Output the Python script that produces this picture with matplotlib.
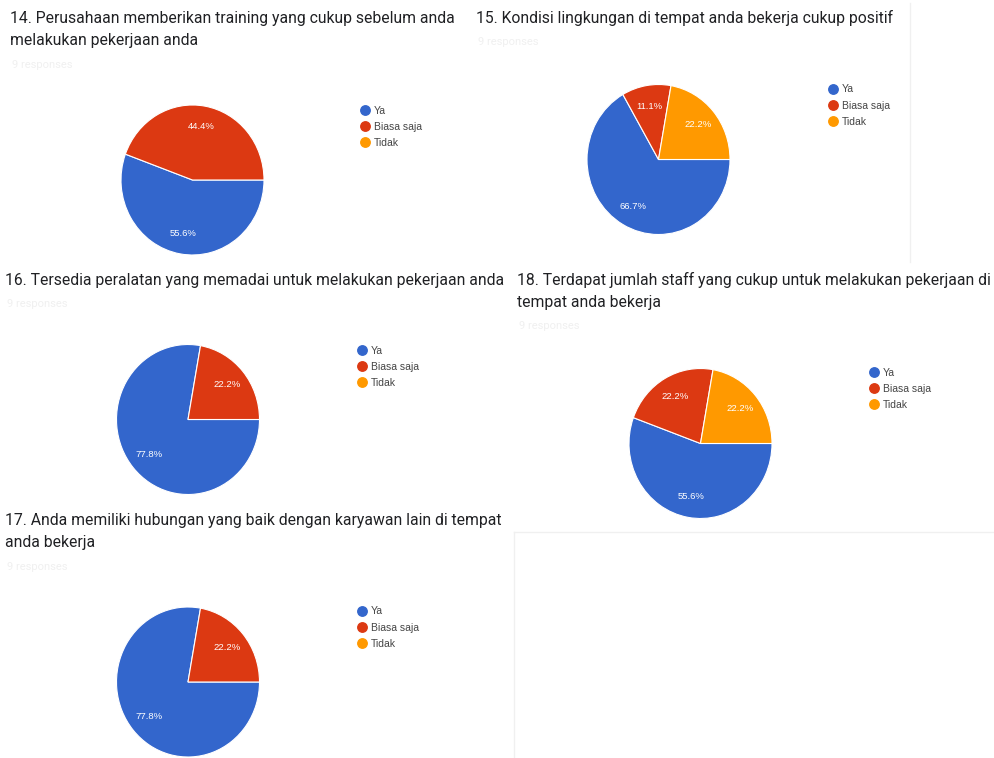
import matplotlib
matplotlib.use("Agg")
import matplotlib.pyplot as plt
from matplotlib.lines import Line2D

W, H = 994, 758

categories = ["Ya", "Biasa saja", "Tidak"]
slice_colors = ["#3366cc", "#dc3912", "#ff9900"]

title_14 = ["14. Perusahaan memberikan training yang cukup sebelum anda",
            "melakukan pekerjaan anda"]
title_15 = ["15. Kondisi lingkungan di tempat anda bekerja cukup positif"]
title_16 = ["16. Tersedia peralatan yang memadai untuk melakukan pekerjaan anda"]
title_18 = ["18. Terdapat jumlah staff yang cukup untuk melakukan pekerjaan di",
            "tempat anda bekerja"]
title_17 = ["17. Anda memiliki hubungan yang baik dengan karyawan lain di tempat",
            "anda bekerja"]

values_14 = [55.6, 44.4, 0.0]
values_15 = [66.7, 11.1, 22.2]
values_16 = [77.8, 22.2, 0.0]
values_18 = [55.6, 22.2, 22.2]
values_17 = [77.8, 22.2, 0.0]

subtitle = "9 responses"

# layout in pixels: title origin, pie centre, legend first-marker centre
panels = [
    dict(title=title_14, values=values_14, tx=10, ty=23, pc=(192.5, 180), lg=(365, 110)),
    dict(title=title_15, values=values_15, tx=476, ty=23, pc=(658.5, 159.5), lg=(833, 89)),
    dict(title=title_16, values=values_16, tx=5, ty=285, pc=(188, 419.5), lg=(362, 350)),
    dict(title=title_18, values=values_18, tx=517, ty=285, pc=(700.5, 443.5), lg=(874, 372)),
    dict(title=title_17, values=values_17, tx=5, ty=525, pc=(188, 682), lg=(362, 611)),
]

RX, RY = 71.5, 75.0
LINE_H = 22.5

fig = plt.figure(figsize=(W / 100, H / 100), dpi=100)
fig.patch.set_facecolor("white")


def fx(x):
    return x / W


def fy(y):
    return 1 - y / H


# faint card borders
for (x0, y0, x1, y1) in [(910, 3, 910, 262), (514, 532, 994, 532), (514, 532, 514, 758)]:
    fig.add_artist(Line2D([fx(x0), fx(x1)], [fy(y0), fy(y1)], color="#f0f0f0", lw=1))

for p in panels:
    # title
    for i, line in enumerate(p["title"]):
        fig.text(fx(p["tx"]), fy(p["ty"] + i * LINE_H), line, family="Roboto",
                 fontsize=11.35, color="#202124", va="baseline", ha="left")
    sub_y = p["ty"] + (len(p["title"]) - 1) * LINE_H + 22
    fig.text(fx(p["tx"] + 2), fy(sub_y), subtitle, family="Roboto", fontsize=8,
             color="#f0f0f0", va="baseline", ha="left")

    # pie
    cx, cy = p["pc"]
    ax = fig.add_axes([fx(cx - RX), fy(cy + RY), 2 * RX / W, 2 * RY / H])
    vals = [v for v in p["values"] if v > 0]
    cols = [c for v, c in zip(p["values"], slice_colors) if v > 0]
    wedges, texts, autotexts = ax.pie(
        vals, colors=cols, startangle=0, counterclock=False, radius=1,
        autopct=lambda pct: f"{pct:.1f}%", pctdistance=0.72,
        wedgeprops=dict(edgecolor="white", linewidth=0.8),
        textprops=dict(color="white", fontsize=6.8, family="Liberation Sans"),
    )
    ax.set_aspect("auto")
    ax.set_xlim(-1.0, 1.0)
    ax.set_ylim(-1.0, 1.0)
    ax.axis("off")

    # legend
    mx, my = p["lg"]
    handles = [Line2D([], [], marker="o", linestyle="none", markersize=6.8,
                      markerfacecolor=c, markeredgecolor=c) for c in slice_colors]
    fs = 7.5
    fpx = fs * 100 / 72
    hl = 0.85
    fig.legend(handles, categories, loc="upper left",
               bbox_to_anchor=(fx(mx - hl * fpx / 2), fy(my - 4.5)),
               frameon=False, handlelength=hl, handletextpad=0.4,
               labelspacing=0.6, borderpad=0, borderaxespad=0,
               prop=dict(family="Liberation Sans", size=fs),
               labelcolor="#444444")

fig.savefig("out.png", dpi=100, facecolor="white")
